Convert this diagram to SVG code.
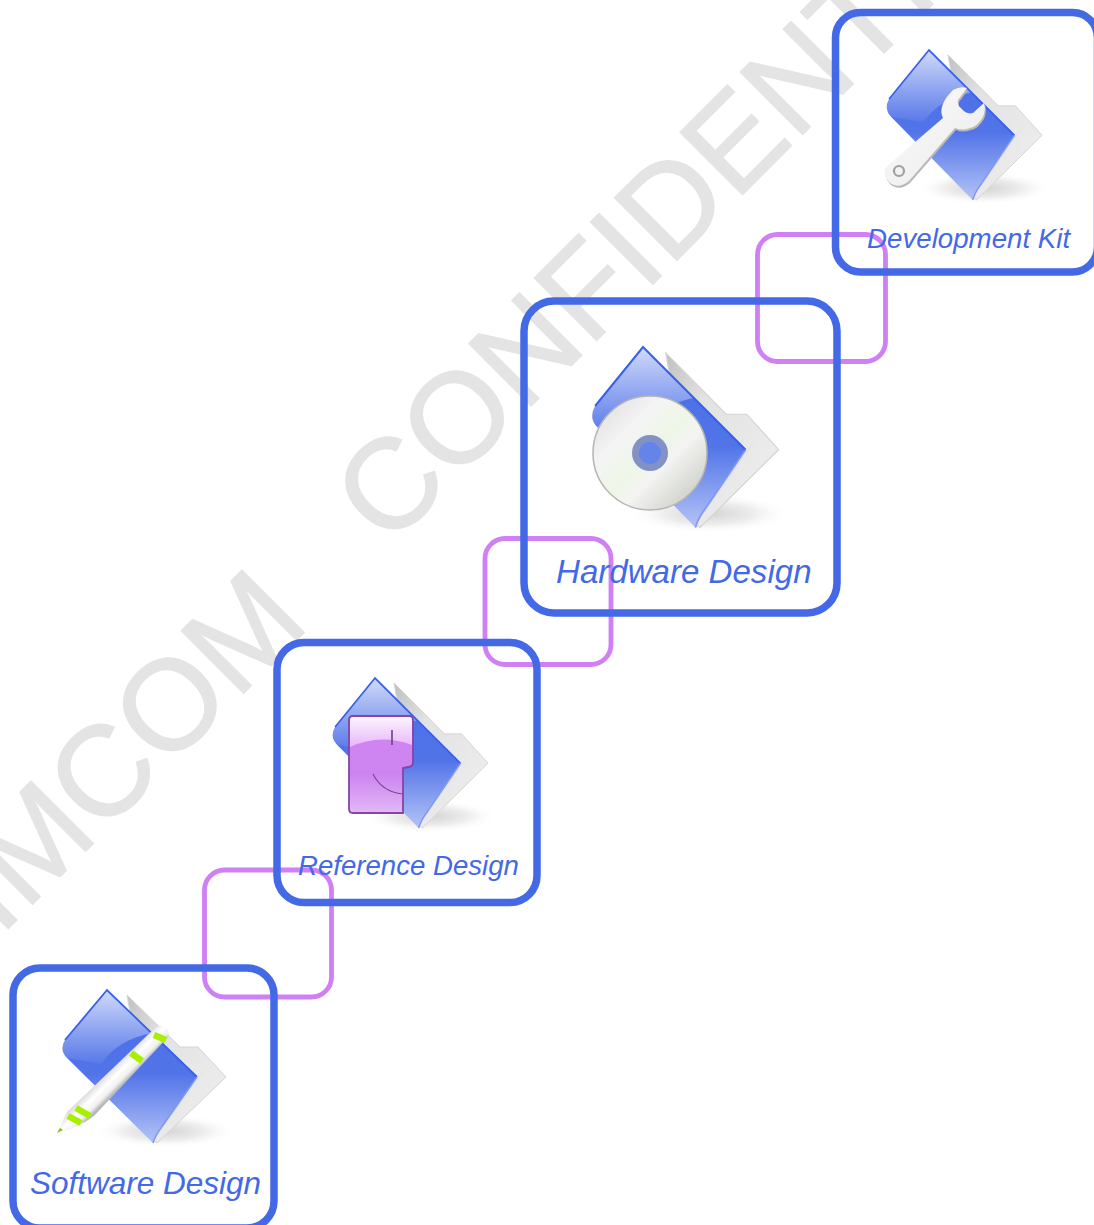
<svg xmlns="http://www.w3.org/2000/svg" xmlns:xlink="http://www.w3.org/1999/xlink" width="1094" height="1225" viewBox="0 0 1094 1225">
<style>
.frame{fill:none;stroke:#4369e6;stroke-width:7.5}
.link{fill:none;stroke:#cf80f5;stroke-width:4.8}
.label{font-family:"Liberation Sans",Arial,sans-serif;font-style:italic;fill:#4369e6}
.wm{font-family:"Liberation Sans",Arial,sans-serif;font-size:128px;fill:#e4e4e4;stroke:#e4e4e4;stroke-width:1.5}
</style>
<defs>
<linearGradient id="fg" x1="0" y1="0" x2="0" y2="1">
<stop offset="0" stop-color="#4a6ee8"/><stop offset=".55" stop-color="#5274e8"/><stop offset="1" stop-color="#b4c3f6"/>
</linearGradient>
<linearGradient id="gl" x1="0" y1="0" x2="0" y2="1">
<stop offset="0" stop-color="#fff" stop-opacity=".75"/><stop offset="1" stop-color="#fff" stop-opacity=".04"/>
</linearGradient>
<linearGradient id="pg" x1="0" y1="0" x2="1" y2="1">
<stop offset="0" stop-color="#c0c0c0"/><stop offset=".3" stop-color="#e2e2e2"/><stop offset="1" stop-color="#f0f0f0"/>
</linearGradient>
<radialGradient id="sh"><stop offset="0" stop-color="#d4d4d4"/><stop offset=".55" stop-color="#ededed"/><stop offset="1" stop-color="#fff" stop-opacity="0"/></radialGradient>
<linearGradient id="wr" x1="0" y1="0" x2="1" y2="1"><stop offset="0" stop-color="#fcfcfc"/><stop offset=".65" stop-color="#f0f0f0"/><stop offset="1" stop-color="#c8c8c8"/></linearGradient>
<linearGradient id="cd" x1="0" y1="0" x2="1" y2="1"><stop offset="0" stop-color="#d8d8d8"/><stop offset=".3" stop-color="#f4f4f4"/><stop offset=".5" stop-color="#eef6e8"/><stop offset=".62" stop-color="#f4f4f2"/><stop offset="1" stop-color="#bcc0b8"/></linearGradient>
<linearGradient id="pk" x1="0" y1="0" x2="0" y2="1"><stop offset="0" stop-color="#d184f2"/><stop offset=".6" stop-color="#cd84f0"/><stop offset="1" stop-color="#e2b8f6"/></linearGradient>
<linearGradient id="pkg" x1="0" y1="0" x2="0" y2="1"><stop offset="0" stop-color="#fbf4fe"/><stop offset="1" stop-color="#e8b6fa"/></linearGradient>
<linearGradient id="pen" gradientUnits="userSpaceOnUse" x1="110" y1="1070" x2="123.500" y2="1083.500"><stop offset="0" stop-color="#dcdcdc"/><stop offset=".4" stop-color="#ffffff"/><stop offset=".78" stop-color="#f0f0f0"/><stop offset="1" stop-color="#b8b8b8"/></linearGradient>
<g id="folder">
<ellipse cx="58" cy="141" rx="72" ry="17" fill="url(#sh)"/>
<path d="M20,5 L73,57 L91,57 L119,87 L50,153 L46,150 Z" fill="url(#pg)" stroke="#d4d4d4"/>
<path d="M72,75 L40,120 M80,75 L46,128 M88,78 L50,134 M96,82 L54,140" stroke="#e2e2e2" fill="none" stroke-width="1"/>
<path d="M0,0 L90,87 L54,138 Q48,146 46,153 L-40,68 Q-48,60 -42,50 Z" fill="url(#fg)"/>
<path d="M0,0 L45,43 Q10,50 -6,74 L-40,68 Q-48,60 -42,50 Z" fill="url(#gl)"/>
<path d="M-42,50 L0,0 L90,87" fill="none" stroke="#3560ee" stroke-width="1.8"/>
<path d="M90,87 L54,138 Q48,146 46,153" fill="none" stroke="#7f98f0" stroke-width="1.5"/>
</g>
</defs>
<rect width="1094" height="1225" fill="#fff"/>
<g id="watermark">
<text class="wm" transform="translate(388,549) rotate(-45)">CONFIDENTIAL</text>
<text class="wm" text-anchor="end" transform="translate(311.7,625) rotate(-45)">SIMCOM</text>
</g>
<g id="connectors">
<rect class="link" x="757.5" y="234.5" width="128" height="127" rx="20"/>
<rect class="link" x="485" y="538.5" width="126" height="126" rx="20"/>
<rect class="link" x="204.5" y="870" width="127" height="127" rx="20"/>
</g>
<g id="development-kit">
<use xlink:href="#folder" href="#folder" transform="translate(929,50) scale(.95,.98)"/>
<path d="M886,167 L943,118 Q937,106 953,90 Q960,86 967,88 L958,100 Q957,106 961,108 Q966,115 973,113 L984,103 Q986,110 983,117 Q977,127 970,128 Q962,131 955,128 L909,181 Q898,190 889,182 Q882,174 886,167 Z" fill="#b8b8b8" transform="translate(1,2)"/>
<path d="M886,167 L943,118 Q937,106 953,90 Q960,86 967,88 L958,100 Q957,106 961,108 Q966,115 973,113 L984,103 Q986,110 983,117 Q977,127 970,128 Q962,131 955,128 L909,181 Q898,190 889,182 Q882,174 886,167 Z" fill="url(#wr)"/>
<circle cx="899" cy="171" r="5" fill="#f2f2f2" stroke="#a0a0a0" stroke-width="2.2"/>
<rect class="frame" x="835.5" y="12.5" width="262" height="259.5" rx="25"/>
<text class="label" x="867" y="248" font-size="27.7">Development Kit</text>
</g>
<g id="hardware-design">
<use xlink:href="#folder" href="#folder" transform="translate(643,347) scale(1.14,1.18)"/>
<circle cx="650" cy="453" r="57" fill="url(#cd)" stroke="#b4b4b4" stroke-width="1.5"/>
<circle cx="650" cy="453" r="18" fill="#8292c4"/>
<circle cx="650" cy="453" r="11" fill="#6484ea"/>
<rect class="frame" x="524" y="301" width="313" height="312" rx="30"/>
<text class="label" x="556" y="583" font-size="33.1">Hardware Design</text>
</g>
<g id="reference-design">
<use xlink:href="#folder" href="#folder" transform="translate(375,678) scale(.95,.98)"/>
<path d="M353,716 L409,716 Q413,716 413,720 L413,762 Q413,767 408,767 L403,768 L403,813 L353,813 Q349,813 349,809 L349,720 Q349,716 353,716 Z" fill="url(#pk)" stroke="#8345a6" stroke-width="1.8"/>
<path d="M350,747 Q380,733 412,745 L412,720 Q412,717 409,717 L353,717 Q350,717 350,720 Z" fill="url(#pkg)"/>
<path d="M392,730 L392,745" stroke="#6d3f8c" stroke-width="1.6"/>
<path d="M373,774 Q382,792 403,794" fill="none" stroke="#7a4a98" stroke-width="1.2"/>
<rect class="frame" x="277" y="642.5" width="260" height="260" rx="27"/>
<text class="label" x="298" y="875" font-size="27.6">Reference Design</text>
</g>
<g id="software-design">
<use xlink:href="#folder" href="#folder" transform="translate(107,990)"/>
<path d="M57,1133 L67,1112 L155,1028 Q161,1024 166,1028 Q170,1032 168,1037 L94,1116 Q78,1128 57,1133 Z" fill="url(#pen)"/>
<g stroke="#a8f000" stroke-width="6.5" fill="none">
<path d="M154,1035 L166,1040"/>
<path d="M131,1053 L142,1061"/>
<path d="M76,1108 L90,1116"/>
<path d="M68,1116 L81,1123"/>
</g>
<path d="M57,1133 L60,1128 L63,1130 Z" fill="#88c000"/>
<rect class="frame" x="13" y="968" width="261" height="260" rx="27"/>
<text class="label" x="30" y="1194" font-size="31.5">Software Design</text>
</g>
</svg>
